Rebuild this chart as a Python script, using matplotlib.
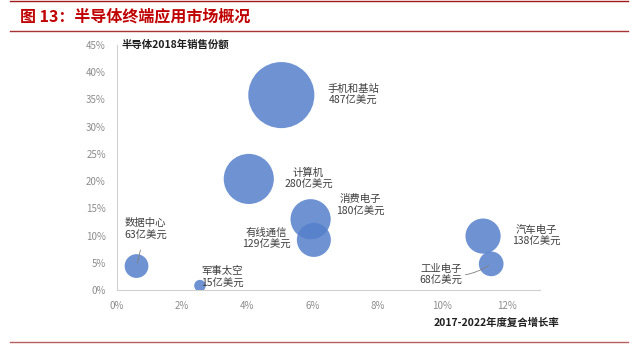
import matplotlib
matplotlib.use("Agg")
import matplotlib.pyplot as plt
from matplotlib.ticker import FuncFormatter

plt.rcParams["font.family"] = ["Noto Sans CJK SC", "DejaVu Sans"]

# data: 2017-2022 CAGR (%), 2018 share (%), sales (亿美元)
names = ["手机和基站", "计算机", "消费电子", "有线通信", "数据中心", "军事太空", "汽车电子", "工业电子"]
growth = [5.05, 4.05, 5.95, 6.05, 0.6, 2.55, 11.25, 11.5]
share = [35.8, 20.4, 13.0, 9.2, 4.4, 0.8, 9.9, 4.8]
sales = [487, 280, 180, 129, 63, 15, 138, 68]

# label offsets (points) relative to bubble centre
offsets = [(52, 0), (43, 0), (36, 10), (-34, 1), (6.5, 26.5), (16, 6), (38, 0), (-36, -8)]

fig = plt.figure(figsize=(6.4, 3.45), dpi=100)
ax = fig.add_axes([117 / 640, 1 - 290 / 345, 423 / 640, 245 / 345])

ax.scatter(growth, share, s=[v * 4.65 for v in sales], color="#5680cb", alpha=0.85,
           edgecolors="none", zorder=3)

for i, name in enumerate(names):
    label = f"{name}\n{sales[i]}亿美元"
    arrow = None
    if name == "数据中心":
        arrow = dict(arrowstyle="-", color="#808080", lw=0.6, shrinkA=5, shrinkB=2)
    if name == "工业电子":
        arrow = dict(arrowstyle="-", color="#808080", lw=0.6, shrinkA=24, shrinkB=2,
                     connectionstyle="arc3,rad=0.2")
    ax.annotate(label, (growth[i], share[i]), xytext=offsets[i], textcoords="offset points",
                ha="center", va="center", fontsize=7.5, color="#404040",
                linespacing=1.3, arrowprops=arrow, zorder=4)

ax.set_xlim(0, 13)
ax.set_ylim(0, 45)
ax.set_xticks(range(0, 13, 2))
ax.set_yticks(range(0, 46, 5))
pct = FuncFormatter(lambda v, p: f"{v:.0f}%")
ax.xaxis.set_major_formatter(pct)
ax.yaxis.set_major_formatter(pct)
ax.tick_params(length=0, labelsize=7, labelcolor="#8c8c8c", pad=8)
for side in ("top", "right"):
    ax.spines[side].set_visible(False)
for side in ("left", "bottom"):
    ax.spines[side].set_color("#d0d0d0")

ax.text(0.01, 1.0, "半导体2018年销售份额", transform=ax.transAxes, fontsize=7.5,
        fontweight="bold", color="#202020", va="center")
fig.text(496 / 640, 1 - 323 / 345, "2017-2022年度复合增长率", fontsize=7.5,
         fontweight="bold", color="#202020", ha="center", va="center")

# page header / footer
fig.text(20 / 640, 1 - 16 / 345, "图 13：半导体终端应用市场概况", fontsize=11.5,
         fontweight="bold", color="#c00000", va="center")
for y, c in ((1, "#a01818"), (30.5, "#a83232"), (342, "#b86060")):
    fig.add_artist(plt.Line2D([10 / 640, 628 / 640], [1 - y / 345] * 2, color=c, lw=1.0))

fig.savefig("out.png", dpi=100)
